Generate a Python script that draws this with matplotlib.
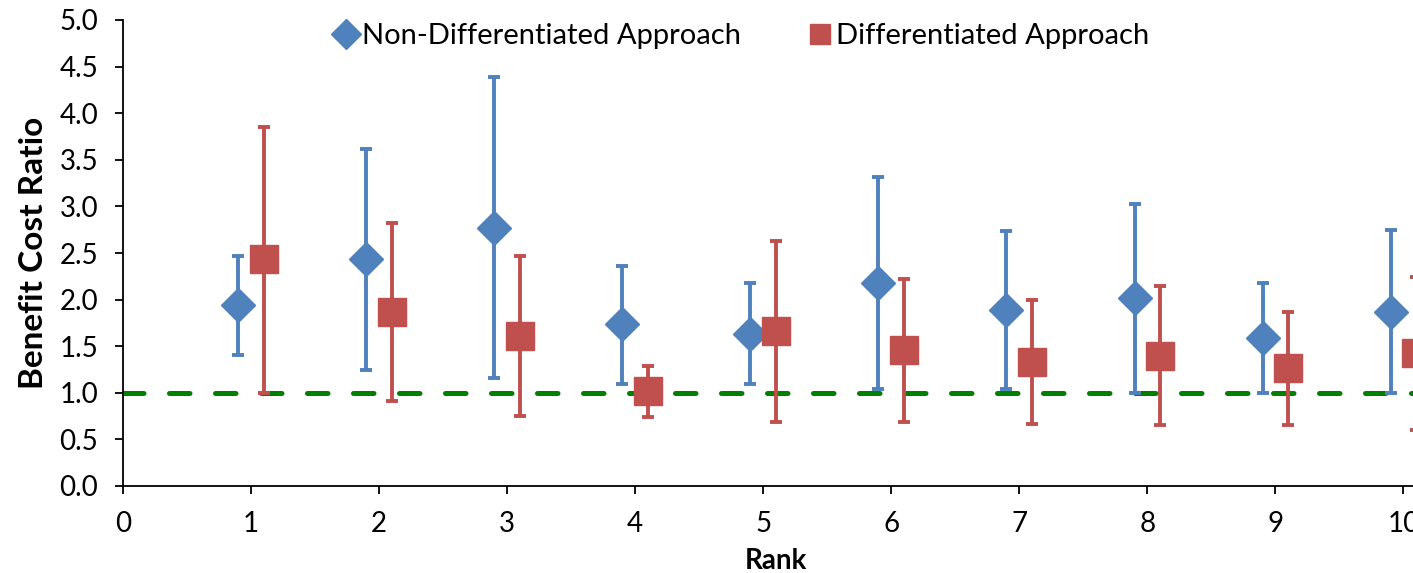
import matplotlib.pyplot as plt
from matplotlib.lines import Line2D
import numpy as np

plt.rcParams['font.family'] = ['Lato', 'DejaVu Sans']

rank = np.arange(1, 11)

# Non-Differentiated Approach
nd_mid = [1.94, 2.44, 2.77, 1.74, 1.63, 2.18, 1.89, 2.02, 1.59, 1.87]
nd_hi = [2.47, 3.62, 4.39, 2.36, 2.18, 3.32, 2.74, 3.03, 2.18, 2.75]
nd_lo = [1.41, 1.25, 1.16, 1.09, 1.09, 1.04, 1.04, 1.00, 1.00, 1.00]

# Differentiated Approach
d_mid = [2.44, 1.87, 1.61, 1.02, 1.66, 1.46, 1.33, 1.40, 1.27, 1.43]
d_hi = [3.85, 2.82, 2.47, 1.29, 2.63, 2.22, 2.00, 2.15, 1.87, 2.24]
d_lo = [1.00, 0.91, 0.75, 0.74, 0.69, 0.69, 0.67, 0.65, 0.65, 0.60]

threshold = 1.0

blue = '#4F81BD'
red = '#C0504D'
green = '#008000'

fig = plt.figure(figsize=(14.13, 5.73), dpi=100)
ax = fig.add_axes([123/1413, 87/573, 1306/1413, 466/573])

# linea di pareggio
ax.axhline(threshold, color=green, lw=3.6, linestyle=(0, (4.1, 5.1)),
           dash_capstyle='round', zorder=1)

nd_mid = np.array(nd_mid)
d_mid = np.array(d_mid)
ax.errorbar(rank - 0.1, nd_mid, yerr=[nd_mid - np.array(nd_lo), np.array(nd_hi) - nd_mid],
            fmt='D', color=blue, ms=17, mec=blue, ecolor=blue, elinewidth=2.8,
            capsize=4.5, capthick=2.8, zorder=3)
ax.errorbar(rank + 0.1, d_mid, yerr=[d_mid - np.array(d_lo), np.array(d_hi) - d_mid],
            fmt='s', color=red, ms=20, mec=red, ecolor=red, elinewidth=2.8,
            capsize=4.5, capthick=2.8, zorder=3)

ax.set_xlim(0, 10.2)
ax.set_ylim(0, 5)
ax.set_xticks(range(0, 11))
ax.set_yticks(np.arange(0, 5.01, 0.5))
ax.set_yticklabels([f'{v:.1f}' for v in np.arange(0, 5.01, 0.5)])
ax.tick_params(labelsize=20, direction='out', length=6, width=1.3)
ax.tick_params(axis='y', pad=12)
ax.tick_params(axis='x', pad=12)

for s in ['top', 'right']:
    ax.spines[s].set_visible(False)
for s in ['left', 'bottom']:
    ax.spines[s].set_linewidth(1.3)

ax.set_ylabel('Benefit Cost Ratio', fontsize=24, fontweight='bold', labelpad=8)
ax.set_xlabel('Rank', fontsize=20, fontweight='bold', labelpad=8)

handles = [Line2D([], [], marker='D', color=blue, ls='none', ms=15),
           Line2D([], [], marker='s', color=red, ls='none', ms=15)]
fig.legend(handles, ['Non-Differentiated Approach', 'Differentiated Approach'],
           loc='center', bbox_to_anchor=(0.524, 0.937), ncol=2, frameon=False,
           fontsize=21, handletextpad=0.05, columnspacing=2.2, handlelength=1.0)

fig.savefig('out.png', dpi=100)
